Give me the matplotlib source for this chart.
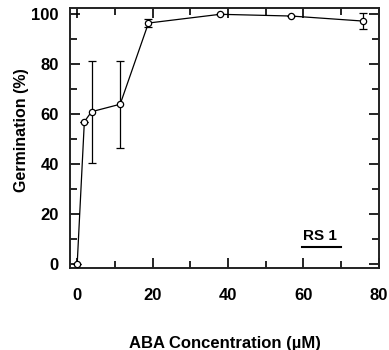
import matplotlib
matplotlib.use('Agg')
import matplotlib.pyplot as plt
from matplotlib.ticker import MultipleLocator

# ABA concentration (uM) and germination (%)
aba_conc = [0, 1.9, 3.8, 11.4, 18.9, 37.9, 56.8, 75.7]
germination = [0, 57, 61, 64, 96.5, 100, 99.3, 97.3]
germ_err = [0, 0, 20.5, 17.5, 1.5, 0, 0, 3.2]

plt.rcParams['font.family'] = ['Liberation Sans', 'DejaVu Sans']
plt.rcParams['font.weight'] = 'bold'

fig = plt.figure(figsize=(3.89, 3.5), dpi=100)
ax = fig.add_axes([0.18, 0.234, 0.794, 0.743])

ax.errorbar(aba_conc, germination, yerr=germ_err, fmt='-o', color='black',
            lw=0.9, ms=4.5, mfc='white', mec='black', mew=0.9,
            ecolor='black', elinewidth=0.9, capsize=3, capthick=0.9,
            clip_on=False, zorder=3)

ax.set_xlim(-1.9, 80)
ax.set_ylim(-1.6, 102.5)
ax.xaxis.set_major_locator(MultipleLocator(20))
ax.xaxis.set_minor_locator(MultipleLocator(10))
ax.yaxis.set_major_locator(MultipleLocator(20))
ax.yaxis.set_minor_locator(MultipleLocator(10))
ax.tick_params(which='both', direction='in', top=True, right=True,
               width=1.2, labelsize=12)
ax.tick_params(axis='x', pad=14)
ax.tick_params(axis='y', pad=8)
ax.tick_params(which='major', length=7)
ax.tick_params(which='minor', length=5)
for sp in ax.spines.values():
    sp.set_linewidth(1.4)
    sp.set_color('#222222')

ax.set_xlabel('ABA Concentration (\u00b5M)', fontsize=12, fontweight='bold',
              labelpad=24)
ax.set_ylabel('Germination (%)', fontsize=11.5, fontweight='bold', labelpad=2)
ax.yaxis.label.set_y(0.53)

ax.text(64.5, 8.4, 'RS 1', fontsize=11, fontweight='bold', ha='center',
        va='bottom')
ax.plot([59.5, 70], [6.8, 6.8], color='black', lw=1.5)

fig.savefig('out.png', dpi=100)
